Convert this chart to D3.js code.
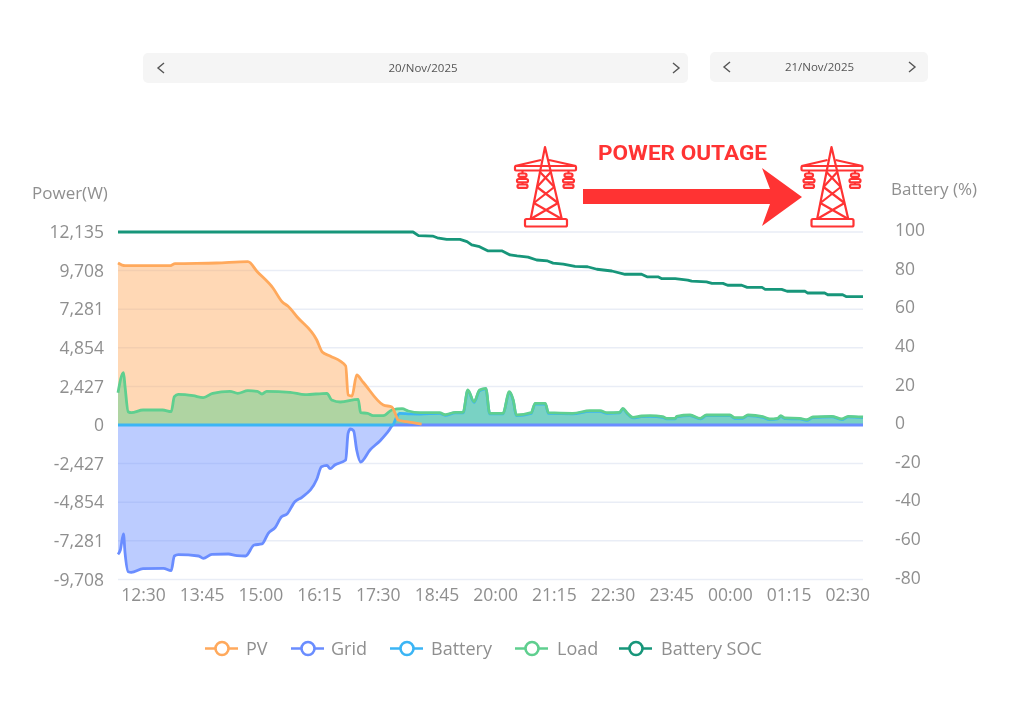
<!DOCTYPE html>
<html><head><meta charset="utf-8">
<script src="https://cdn.jsdelivr.net/npm/d3@7"></script>
<style>html,body{margin:0;padding:0;background:#fff}svg{display:block;filter:blur(0.45px)}text{font-family:"Open Sans","Noto Sans",sans-serif}</style>
</head><body><svg id="c" width="1024" height="720"></svg>
<script>
// minutes since 12:00 on the first day
const tickMinutes=[30,105,180,255,330,405,480,555,630,705,780,855,930];
const tickLabels=["12:30","13:45","15:00","16:15","17:30","18:45","20:00","21:15","22:30","23:45","00:00","01:15","02:30"];
const powerTicks=[12135,9708,7281,4854,2427,0,-2427,-4854,-7281,-9708];
const powerLabels=["12,135","9,708","7,281","4,854","2,427","0","-2,427","-4,854","-7,281","-9,708"];
const socTicks=[100,80,60,40,20,0,-20,-40,-60,-80];
const pvTimes=[0,9,66,73,126,166,178,198,210,217,229,254,261,271,291,294,299,305,313,339,350,354,358,369,388];
const pvValues=[10185,10015,10015,10141,10185,10267,9638,8613,7733,7482,6790,5344,4590,4338,3709,1886,1823,3143,2703,1257,1132,754,314,207,60];
const gridTimes=[0,3,7,9,13,17,32,58,68,72,77,103,109,120,141,152,163,174,184,192,201,209,216,226,235,254,260,267,271,277,291,294,297,301,305,310,322,335,345,352,952];
const gridValues=[-8130,-7859,-6853,-8047,-9223,-9261,-9034,-9009,-9160,-8236,-8154,-8236,-8380,-8130,-8110,-8217,-8236,-7544,-7481,-6809,-6432,-5765,-5595,-4822,-4546,-3414,-2622,-2534,-2747,-2515,-2200,-522,-251,-358,-1572,-2326,-1572,-987,-421,0,0];
const loadTimes=[0,7,9,13,17,32,57,68,72,77,96,109,121,143,153,166,178,184,190,220,239,267,273,284,307,310,319,326,339,350,363,371,386,411,418,431,441,447,455,462,470,475,492,500,505,509,528,533,546,550,581,603,616,625,641,645,651,658,669,680,696,701,712,714,731,744,752,782,788,798,805,824,833,843,847,852,871,880,888,912,925,933,952];
const loadValues=[2031,3288,2408,836,773,943,943,836,1779,1930,1842,1716,1993,2119,1993,2156,2119,1949,2119,2056,1905,1993,1572,1446,1616,773,736,585,585,943,1025,880,773,773,648,798,798,2200,1465,2200,2307,736,736,2094,1572,629,773,1364,1364,773,736,899,899,773,798,1050,736,484,566,585,522,421,421,547,629,421,629,629,459,459,629,522,377,421,585,440,421,333,503,547,377,547,503];
const batteryTimes=[0,350,351,355,360,373,386,411,418,431,441,447,455,462,470,475,492,500,505,509,528,533,546,550,581,603,616,625,641,645,651,658,669,680,696,701,712,714,731,744,752,782,788,798,805,824,833,843,847,852,871,880,888,912,925,933,952];
const batteryValues=[0,0,0,400,730,700,690,730,610,760,760,2160,1425,2160,2267,700,700,2050,1530,590,730,1320,1320,730,700,860,860,730,760,1010,700,445,525,545,480,380,380,505,590,380,590,590,420,420,590,480,340,380,545,400,380,295,460,505,340,505,460];
const socTimes=[0,377,384,402,408,420,437,446,452,462,473,491,501,510,524,535,549,556,569,584,600,612,631,648,669,676,690,695,712,728,733,752,759,773,779,797,804,823,827,848,855,878,881,903,907,926,931,952];
const socValues=[100,100,98.1,97.9,97,96.2,96.2,95,93.3,92.4,90.2,90.2,88.1,87.6,87,85.5,85,83.9,83.4,82.2,82,80.7,79.8,78.1,78.1,76.8,76.8,75.8,75.8,75.1,74.5,74.2,73.4,73.4,72.4,72.4,71.3,71.3,70.3,70.3,69.3,69.3,68.4,68.4,67.5,67.5,66.5,66.5];
const legendNames=["PV","Grid","Battery","Load","Battery SOC"];
const colors={PV:"#ffa95c",Grid:"#6a8dff",Battery:"#3bb5f5",Load:"#5fcf8f",SOC:"#17967a"};

const svg=d3.select("#c");
const x=d3.scaleLinear().domain([0,952]).range([118,863]);
const yP=d3.scaleLinear().domain([-9708,12135]).range([579.4,232]);
const yS=d3.scaleLinear().domain([-80,100]).range([579.4,232]);
const grey="#8f8f8f";
const fontSize=17.5;

// date bars
function dateBar(x0,x1,y0,txt,cx,cl,cr,fs){
  svg.append("rect").attr("x",x0).attr("y",y0).attr("width",x1-x0).attr("height",30).attr("rx",5).attr("fill","#f5f5f5");
  svg.append("text").attr("x",cx).attr("y",y0+19).attr("text-anchor","middle").attr("font-size",fs).attr("fill","#555").text(txt);
  [[cl,-1],[cr,1]].forEach(([c,d])=>svg.append("path").attr("d",`M${c-d*3},${y0+10}L${c+d*3},${y0+15}L${c-d*3},${y0+20}`).attr("fill","none").attr("stroke","#555").attr("stroke-width",1.4));
}
dateBar(143,688,53,"20/Nov/2025",423,161,676,11.5);
dateBar(710,928,52,"21/Nov/2025",819.5,727,912,11.5);

// grid
svg.append("g").selectAll("line").data(powerTicks).join("line")
 .attr("x1",118).attr("x2",863).attr("y1",d=>yP(d)).attr("y2",d=>yP(d)).attr("stroke","#e9edf6").attr("stroke-width",1.5);

// axes
function styleAxis(g){g.select(".domain").remove();g.selectAll(".tick line").remove();g.selectAll("text").attr("fill",grey).attr("font-size",fontSize).attr("font-family","'Open Sans','Noto Sans',sans-serif");}
svg.append("g").attr("transform","translate(104,0)").call(d3.axisLeft(yP).tickValues(powerTicks).tickSize(0).tickPadding(0).tickFormat((d,i)=>powerLabels[i])).call(styleAxis);
svg.append("g").attr("transform","translate(895,-2)").call(d3.axisRight(yS).tickValues(socTicks).tickSize(0).tickPadding(0).tickFormat(d=>d)).call(styleAxis);
svg.append("g").attr("transform","translate(1.5,589)").call(d3.axisBottom(x).tickValues(tickMinutes).tickSize(0).tickPadding(0).tickFormat((d,i)=>tickLabels[i])).call(styleAxis);
svg.append("text").attr("x",32).attr("y",199).attr("font-size",17).attr("fill",grey).text("Power(W)");
svg.append("text").attr("x",891).attr("y",195).attr("font-size",17).attr("fill",grey).text("Battery (%)");

// series
const zip=(t,v)=>t.map((m,i)=>[m,v[i]]);
const curve=d3.curveMonotoneX;
const area=d3.area().x(d=>x(d[0])).y0(yP(0)).y1(d=>yP(d[1])).curve(curve);
const line=d3.line().x(d=>x(d[0])).y(d=>yP(d[1])).curve(curve);
const pv=zip(pvTimes,pvValues),gr=zip(gridTimes,gridValues),ba=zip(batteryTimes,batteryValues),lo=zip(loadTimes,loadValues);
[[pv,colors.PV,.45],[gr,colors.Grid,.45],[ba,colors.Battery,.55],[lo,colors.Load,.5]].forEach(([d,c,o])=>svg.append("path").attr("d",area(d)).attr("fill",c).attr("fill-opacity",o));
[[gr,colors.Grid],[ba,colors.Battery],[lo,colors.Load],[pv,colors.PV]].forEach(([d,c])=>svg.append("path").attr("d",line(d)).attr("fill","none").attr("stroke",c).attr("stroke-width",2.8).attr("stroke-linejoin","round"));
svg.append("path").attr("d",d3.line().x(d=>x(d[0])).y(d=>yS(d[1]))(zip(socTimes,socValues))).attr("fill","none").attr("stroke",colors.SOC).attr("stroke-width",2.8).attr("stroke-linejoin","round");

// legend
const legendX=[205,291,390,515,619],legendTextX=[246,331,431,557,661],legendCol=[colors.PV,colors.Grid,colors.Battery,colors.Load,colors.SOC];
legendNames.forEach((n,i)=>{
  const g=svg.append("g");
  g.append("line").attr("x1",legendX[i]).attr("x2",legendX[i]+33).attr("y1",648.5).attr("y2",648.5).attr("stroke",legendCol[i]).attr("stroke-width",2.6);
  g.append("circle").attr("cx",legendX[i]+17).attr("cy",648.5).attr("r",6.5).attr("fill","#fff").attr("stroke",legendCol[i]).attr("stroke-width",2.6);
  g.append("text").attr("x",legendTextX[i]).attr("y",654.5).attr("font-size",18).attr("fill",grey).text(n);
});

// annotation
const red="#ff3333";
svg.append("text").attr("x",598).attr("y",160).attr("font-size",21).attr("font-weight",700).attr("fill",red)
  .attr("textLength",169).attr("lengthAdjust","spacingAndGlyphs").style("font-family","Roboto,sans-serif").text("POWER OUTAGE");
svg.append("path").attr("d","M583,189H770L762,168L802,197L762,226L770,204H583Z").attr("fill",red);
function tower(dx){
  const g=svg.append("g").attr("transform",`translate(${dx},0)`).attr("fill","none").attr("stroke",red).attr("stroke-width",2.2).attr("stroke-linejoin","round");
  const L=y=>545-(y-147)*14.3/71.7,R=y=>545+(y-147)*16.7/71.7;
  g.append("path").attr("d",`M${L(219)},219L545,147L${R(219)},219`);
  g.append("rect").attr("x",525).attr("y",219).attr("width",42).attr("height",7.5).attr("rx",1.5);
  g.append("path").attr("d","M515,166L541,160M549,160L576,166");
  g.append("rect").attr("x",515).attr("y",166).attr("width",61).attr("height",4.5).attr("rx",1);
  const lv=[172,187,203,219];
  for(let i=0;i<3;i++){g.append("path").attr("d",`M${L(lv[i])},${lv[i]}L${R(lv[i+1])},${lv[i+1]}M${R(lv[i])},${lv[i]}L${L(lv[i+1])},${lv[i+1]}`);}
  [522.5,568.5].forEach(c=>{
    g.append("path").attr("d",`M${c},170V187`);
    [[173.5,4],[179,5.5],[184.5,5]].forEach(([y,w])=>g.append("rect").attr("x",c-w).attr("y",y).attr("width",2*w).attr("height",3.4).attr("rx",1.7).attr("fill","#fff"));
  });
}
tower(0);tower(286.5);
</script></body></html>
